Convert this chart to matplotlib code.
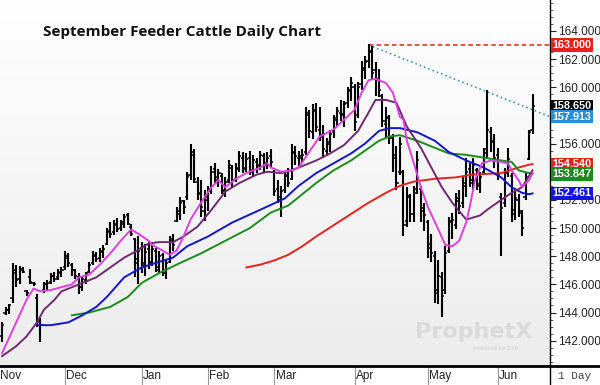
import numpy as np
import matplotlib.pyplot as plt
from matplotlib.colors import LinearSegmentedColormap
from matplotlib.lines import Line2D
from matplotlib.transforms import blended_transform_factory
from matplotlib.ticker import MultipleLocator

title = "September Feeder Cattle Daily Chart"

# daily bars: open, high, low, close
opens = [142.3, 144.0, 144.2, 145.0, 147.0, 146.4, 147.1, 145.5, 146.5, 146.1,
         145.0, 143.4, 145.6, 146.0, 146.2, 146.6, 146.5, 146.8, 147.2, 147.9,
         147.4, 147.0, 146.5, 145.8, 146.3, 146.9, 147.5, 148.0, 147.9, 148.3,
         148.9, 149.8, 149.7, 150.2, 150.0, 150.3, 150.9, 150.1, 149.2, 147.5,
         148.6, 147.4, 148.5, 147.5, 148.4, 147.0, 148.1, 146.8, 147.6, 149.2,
         150.5, 151.0, 151.9, 152.2, 153.8, 155.4, 153.3, 152.5, 151.2, 152.0,
         152.8, 154.2, 153.4, 153.7, 152.6, 153.4, 154.3, 153.5, 154.3, 155.0,
         154.2, 155.0, 154.0, 154.7, 154.5, 155.1, 154.6, 155.1, 154.0, 152.8,
         152.0, 152.7, 153.8, 153.5, 155.3, 155.0, 155.1, 155.4, 158.0, 156.8,
         158.4, 157.0, 156.5, 155.5, 156.1, 156.8, 157.8, 158.2, 158.1, 158.9,
         159.8, 160.0, 158.0, 160.2, 161.2, 161.9, 162.5, 161.2, 160.5, 159.4,
         157.4, 157.8, 156.5, 155.2, 154.0, 154.0, 150.5, 152.2, 151.0, 152.8,
         152.8, 151.4, 150.4, 148.9, 148.0, 145.4, 146.5, 145.6, 148.4, 150.5,
         150.2, 152.1, 151.8, 153.0, 154.2, 153.2, 154.1, 153.0, 154.0, 155.6,
         156.8, 156.2, 155.2, 152.2, 151.8, 154.0, 153.7, 151.0, 152.0, 151.1,
         152.2, 154.9, 157.0]
highs = [143.3, 144.4, 144.6, 147.5, 147.4, 147.3, 147.2, 145.6, 147.1, 146.2,
         145.3, 143.6, 146.2, 146.3, 146.8, 146.9, 147.1, 147.2, 148.4, 148.2,
         147.5, 147.1, 146.8, 146.6, 146.9, 147.6, 148.4, 148.3, 148.6, 148.8,
         150.0, 150.4, 150.6, 150.7, 150.6, 151.0, 151.1, 150.3, 149.3, 149.4,
         149.0, 148.9, 149.0, 148.8, 148.6, 148.4, 148.2, 147.8, 149.4, 149.6,
         151.5, 152.2, 152.0, 154.0, 156.0, 155.6, 153.6, 153.4, 152.7, 153.0,
         154.4, 154.6, 154.2, 153.9, 153.6, 154.8, 154.5, 154.6, 155.5, 155.4,
         155.3, 155.5, 155.2, 155.0, 155.5, 155.3, 155.4, 155.6, 154.1, 153.4,
         153.0, 154.0, 154.3, 156.0, 155.8, 155.5, 155.6, 158.6, 158.4, 158.8,
         158.9, 158.6, 157.3, 156.4, 157.0, 158.0, 158.6, 159.1, 159.0, 160.0,
         160.7, 160.2, 160.4, 161.9, 162.2, 163.1, 162.9, 161.8, 161.3, 159.5,
         158.6, 158.0, 156.7, 155.8, 156.5, 154.1, 152.9, 152.4, 153.0, 155.5,
         153.0, 151.8, 150.6, 149.6, 148.4, 147.7, 146.9, 148.7, 150.8, 151.1,
         152.5, 152.7, 153.6, 155.0, 154.6, 155.0, 154.3, 154.0, 155.7, 159.8,
         157.2, 156.7, 155.7, 152.5, 154.3, 155.7, 153.9, 152.7, 152.4, 151.3,
         153.9, 157.0, 159.5]
lows = [141.9, 143.8, 143.9, 144.7, 145.8, 146.0, 146.8, 145.2, 146.0, 145.9,
        143.0, 141.9, 145.4, 145.5, 146.0, 146.2, 146.3, 146.5, 147.0, 147.2,
        146.6, 146.4, 145.3, 145.5, 146.0, 146.8, 147.4, 147.6, 147.6, 147.9,
        148.8, 149.3, 149.5, 149.7, 149.8, 150.0, 150.2, 149.4, 146.5, 146.0,
        146.8, 146.6, 147.1, 147.3, 146.9, 146.8, 146.6, 146.4, 147.5, 148.4,
        150.4, 150.6, 151.0, 152.0, 153.4, 153.2, 152.0, 150.8, 150.5, 151.2,
        152.4, 153.2, 152.9, 152.4, 152.2, 153.2, 152.9, 153.3, 154.0, 153.9,
        154.0, 153.8, 153.6, 153.9, 154.1, 154.0, 154.2, 154.3, 152.3, 151.8,
        150.8, 152.5, 152.9, 153.4, 154.5, 154.3, 154.6, 155.2, 156.4, 156.3,
        156.8, 156.2, 155.0, 155.1, 155.4, 156.4, 157.2, 157.6, 157.2, 158.5,
        159.0, 156.9, 157.8, 159.8, 160.6, 161.4, 160.5, 159.4, 159.3, 157.2,
        156.4, 156.0, 154.0, 152.7, 153.8, 149.4, 150.1, 150.4, 150.4, 152.4,
        150.4, 149.8, 147.9, 147.6, 144.7, 144.6, 143.7, 145.3, 148.2, 149.2,
        149.9, 151.0, 151.4, 152.2, 152.9, 152.7, 152.7, 152.5, 153.8, 155.0,
        155.4, 154.3, 153.4, 148.0, 151.5, 153.6, 150.4, 150.6, 150.8, 149.4,
        152.0, 154.8, 156.7]
closes = [143.1, 144.2, 144.5, 146.8, 146.3, 147.0, 146.9, 145.4, 146.2, 146.0,
          143.3, 143.1, 146.0, 146.1, 146.6, 146.4, 146.9, 147.0, 148.0, 147.5,
          147.0, 146.6, 145.8, 146.4, 146.7, 147.4, 148.1, 147.8, 148.4, 148.5,
          149.7, 149.6, 150.3, 149.9, 150.4, 150.8, 150.3, 149.6, 147.8, 148.4,
          147.5, 148.3, 147.6, 148.5, 147.2, 148.0, 147.0, 147.5, 149.1, 148.8,
          151.2, 151.8, 151.5, 153.6, 155.2, 153.5, 152.4, 151.5, 152.2, 152.6,
          154.0, 153.6, 153.9, 152.7, 153.3, 154.5, 153.4, 154.2, 155.1, 154.3,
          154.9, 154.1, 154.8, 154.4, 155.2, 154.5, 155.0, 154.7, 152.6, 152.2,
          152.6, 153.7, 153.2, 155.4, 155.1, 155.0, 155.2, 158.2, 156.9, 158.3,
          157.2, 156.6, 155.6, 156.0, 156.7, 157.7, 158.3, 158.0, 158.8, 159.7,
          160.3, 157.5, 160.0, 161.4, 161.8, 162.6, 161.0, 160.6, 159.8, 157.6,
          157.9, 156.4, 155.0, 153.2, 156.0, 150.2, 152.3, 151.0, 152.5, 154.8,
          151.2, 150.9, 148.6, 148.2, 145.6, 146.6, 145.2, 148.2, 150.4, 150.6,
          151.9, 151.6, 153.2, 154.0, 153.4, 154.5, 153.1, 153.6, 155.3, 157.0,
          156.1, 155.0, 153.8, 151.4, 153.9, 154.9, 151.3, 152.1, 151.2, 150.0,
          153.6, 156.8, 158.65]

months = ["Nov", "Dec", "Jan", "Feb", "Mar", "Apr", "May", "Jun"]
month_start = [0, 19, 41, 60, 79, 102, 123, 143]

# moving averages, sampled along the chart (bar index, price)
fast_idx = [0, 7, 9, 11, 14, 17, 20, 22, 25, 28, 31, 34, 37, 39, 42, 43, 46, 48,
            50, 52, 54, 57, 60, 62, 64, 67, 70, 74, 76, 77, 80, 83, 85, 88, 91,
            95, 98, 101, 103, 105, 107, 110, 112, 114, 115, 116, 118, 120, 122,
            125, 127, 129, 131, 133, 134, 135.5, 137.5, 140, 143, 145, 146, 148,
            149, 151, 152]
fast_ma = [141.1, 144.9, 145.7, 145.5, 145.6, 145.8, 146.0, 146.5, 146.7, 147.4,
           148.2, 149.1, 149.9, 149.6, 149.1, 148.8, 148.4, 148.1, 148.4, 149.4,
           150.6, 151.8, 152.9, 153.4, 152.9, 153.5, 153.9, 154.3, 154.6, 154.3,
           154.0, 154.1, 154.3, 155.4, 156.5, 157.0, 157.7, 158.4, 159.6, 160.5,
           160.6, 160.3, 159.6, 157.9, 157.7, 156.2, 154.6, 152.9, 151.5, 149.9,
           148.8, 148.7, 149.1, 150.4, 151.5, 153.4, 154.6, 154.8, 154.7, 154.6,
           154.1, 153.4, 152.9, 153.4, 153.9]
mid_idx = [0, 4, 7, 10, 12, 15, 17, 20, 23, 27, 31, 35, 38, 42, 45, 49, 52, 56,
           60, 64, 68, 73, 76, 80, 83, 85, 90, 94, 98, 102, 105, 107, 110, 113,
           116, 120, 123, 126, 129, 133, 137, 139, 143, 146, 149, 152]
mid_ma = [140.9, 141.6, 142.3, 143.3, 144.2, 144.9, 145.5, 145.8, 146.1, 146.5,
          147.2, 147.9, 148.3, 148.9, 149.0, 149.0, 149.4, 150.1, 151.3, 152.6,
          153.2, 153.8, 154.0, 153.9, 154.1, 154.3, 154.8, 155.3, 155.9, 156.9,
          158.2, 159.1, 159.1, 158.9, 157.2, 155.7, 154.3, 152.9, 151.8, 150.6,
          150.9, 151.3, 152.0, 152.5, 152.9, 154.1]
blue_idx = [10, 14, 19, 23, 27, 30, 35, 40, 45, 49, 53, 59, 66, 74, 81, 85, 90,
            95, 100, 104, 108, 111, 114, 119, 124, 128, 133, 138, 143, 146, 149,
            151, 152]
blue_ma = [143.1, 143.1, 143.3, 143.8, 144.4, 145.1, 146.5, 147.2, 147.6, 147.9,
           148.7, 149.4, 150.4, 151.3, 152.1, 153.0, 153.9, 154.6, 155.3, 156.0,
           156.9, 157.1, 157.1, 156.8, 156.2, 155.4, 154.8, 154.3, 153.6, 152.9,
           152.5, 152.4, 152.461]
green_idx = [20, 25, 31, 36, 40, 45, 50, 57, 64, 71, 77, 82, 85, 90, 95, 100, 104,
             108, 111, 114, 119, 124, 128, 133, 138, 143, 146, 148, 151, 152]
green_ma = [143.8, 144.0, 144.4, 145.1, 146.1, 146.8, 147.4, 148.2, 149.1, 150.0,
            151.1, 151.6, 152.2, 153.2, 154.1, 154.8, 155.5, 156.2, 156.5, 156.6,
            156.2, 155.7, 155.3, 155.2, 155.0, 154.8, 154.7, 154.1, 153.9, 153.847]
red_idx = [70, 74, 78, 82, 86, 90, 95, 100, 105, 110, 114, 118, 124, 130, 135,
           143, 148, 151, 152]
red_ma = [147.2, 147.4, 147.7, 148.1, 148.7, 149.4, 150.2, 151.0, 151.8, 152.5,
          153.0, 153.3, 153.5, 153.6, 153.8, 153.9, 154.3, 154.5, 154.54]

peak_idx = 105
peak_price = 163.0
trend_end = 157.913
last_price = 158.65

XMIN, XMAX = -0.6, 157
YMIN, YMAX = 140.2, 166.2

fig = plt.figure(figsize=(6, 3.85), dpi=100)
fig.patch.set_facecolor("white")
ax = fig.add_axes([0, 19 / 385, 550 / 600, 366 / 385])

# soft white-to-grey background
bg = LinearSegmentedColormap.from_list("bg", ["#ffffff", "#ececec"])
ax.imshow(np.linspace(0, 1, 256).reshape(-1, 1), cmap=bg, aspect="auto",
          extent=[XMIN, XMAX, YMIN, YMAX], zorder=0)
ax.set_xlim(XMIN, XMAX)
ax.set_ylim(YMIN, YMAX)

idx = np.arange(len(closes))
ax.vlines(idx, lows, highs, color="black", lw=1.5, zorder=3)
ax.hlines(opens, idx - 0.6, idx, color="black", lw=1.1, zorder=3)
ax.hlines(closes, idx, idx + 0.6, color="black", lw=1.1, zorder=3)

ax.plot(red_idx, red_ma, color="#e0241c", lw=1.4, zorder=4)
ax.plot(green_idx, green_ma, color="#1c8a1c", lw=1.4, zorder=4)
ax.plot(blue_idx, blue_ma, color="#1414c8", lw=1.4, zorder=4)
ax.plot(mid_idx, mid_ma, color="#6e2a6e", lw=1.4, zorder=4)
ax.plot(fast_idx, fast_ma, color="#dc40dc", lw=1.4, zorder=4)

# resistance line and trendline from the high
ax.plot([peak_idx, XMAX], [peak_price, peak_price], color="#e0241c", lw=1.1,
        ls=(0, (3, 2)), zorder=2)
ax.plot([peak_idx, XMAX], [peak_price, trend_end], color="#2a8aa8", lw=1.1,
        ls=(0, (1, 2)), zorder=2)

# right price axis; labels hidden behind the price tags are left blank
yt = np.arange(142, 165, 2)
ax.yaxis.tick_right()
ax.set_yticks(yt)
ax.set_yticklabels(["" if v in (154, 158) else f"{v:.3f}" for v in yt])
ax.yaxis.set_minor_locator(MultipleLocator(0.5))
ax.tick_params(axis="y", which="major", labelsize=8.5, colors="#222222",
               length=4, pad=2)
ax.tick_params(axis="y", which="minor", length=2, color="#444444")
for lab in ax.get_yticklabels():
    lab.set_family("Liberation Sans")
ax.set_xticks([])
for s in ["top", "left"]:
    ax.spines[s].set_visible(False)
ax.spines["right"].set_color("black")
ax.spines["right"].set_linewidth(1.0)
ax.spines["bottom"].set_color("black")
ax.spines["bottom"].set_linewidth(2.0)

trans = blended_transform_factory(ax.transAxes, ax.transData)
tags = [(peak_price, "#e3221c"), (last_price, "#000000"), (trend_end, "#2c8fd4"),
        (red_ma[-1], "#e3221c"), (green_ma[-1], "#1c8a1c"), (blue_ma[-1], "#1414e0")]
for val, col in tags:
    ax.text(1.004, val, f"{val:.3f}", transform=trans, ha="left", va="center",
            color="white", fontsize=7.8, weight="bold", family="Liberation Sans",
            bbox=dict(boxstyle="square,pad=0.15", fc=col, ec="none"),
            clip_on=False, zorder=10)

# month labels along the bottom
tx = blended_transform_factory(ax.transData, ax.transAxes)
for m, name in zip(month_start, months):
    ax.plot([m - 1.0, m - 1.0], [0, -0.052], transform=tx, color="#999999",
            lw=0.8, clip_on=False)
    ax.text(m - 0.6, -0.027, name, transform=tx, ha="left", va="center",
            fontsize=8.5, color="#222222", family="Liberation Sans")

fig.add_artist(Line2D([550 / 600, 550 / 600], [0, 19 / 385], color="black", lw=1))
fig.add_artist(Line2D([550 / 600, 1], [19 / 385, 19 / 385], color="black", lw=2))
fig.text(558 / 600, 9 / 385, "1 Day", fontsize=8, family="Liberation Mono",
         color="#444444", va="center", ha="left")

# watermark
ax.text(0.755, 0.093, "ProphetX", transform=ax.transAxes, fontsize=16,
        weight="bold", color="#dadada", ha="left", va="center", zorder=1)
ax.text(0.86, 0.048, "powered by DTN", transform=ax.transAxes, fontsize=4,
        color="#d0d0d0", ha="left", va="center", zorder=1)

fig.text(43 / 600, 1 - 32 / 385, title, fontsize=11, weight="bold",
         family="Open Sans", va="center", ha="left", color="#111111")

fig.savefig("out.png", dpi=100)
